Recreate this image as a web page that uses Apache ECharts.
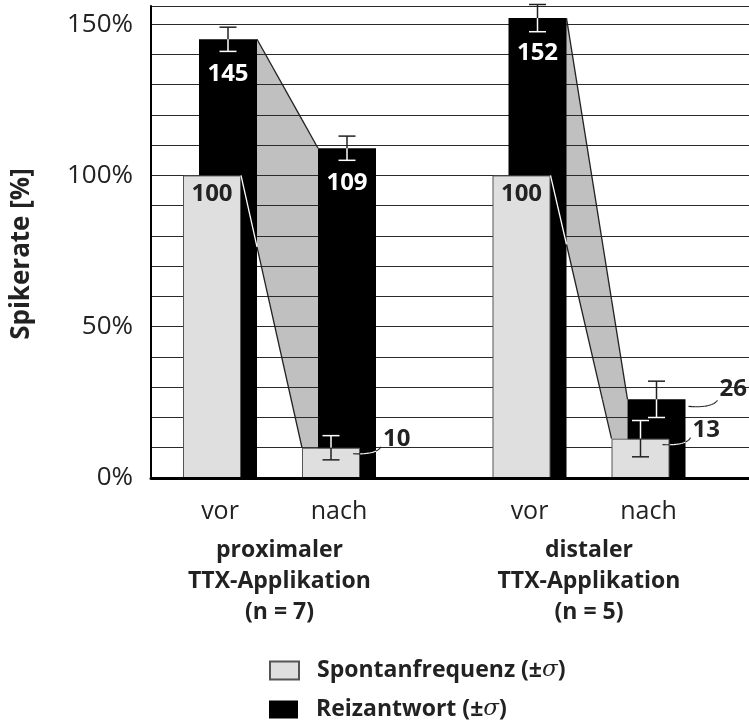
<!DOCTYPE html>
<html>
<head>
<meta charset="utf-8">
<script src="https://cdn.jsdelivr.net/npm/echarts@6/dist/echarts.min.js"></script>
<style>
  html, body { margin: 0; padding: 0; background: #fff; }
  #plot1 { width: 749px; height: 721px; }
</style>
</head>
<body>
<div id="plot1"></div>
<script>
// data (values in % of spontaneous rate before TTX)
const categories = ['vor', 'nach'];
const groupNames = ['proximaler\nTTX-Applikation\n(n = 7)', 'distaler\nTTX-Applikation\n(n = 5)'];
const spontan = [[100, 10], [100, 13]];
const spontanSd = [[null, 4], [null, 6]];
const reiz = [[145, 109], [152, 26]];
const reizSd = [[4, 4], [4.5, 6]];
const yTickLabels = [0, 50, 100, 150];
const seriesNames = ['Spontanfrequenz', 'Reizantwort'];

const FONT = 'Open Sans';
const BAR_W = 58;
const SHIFT = 16;
const Y_MAX = 156;
const INK = '#222';
const LABEL_FONT = 'bold 24px "' + FONT + '"';

function inside(r, x, y) {
  return x > r.x0 && x < r.x1 && y > r.y0 && y < r.y1;
}

// bar rectangles (pixels) of one group, from the axes
function groupRects(g, api) {
  const zero = api.coord([0, 0])[1];
  const half = (BAR_W + SHIFT) / 2;
  return categories.map(function (c, i) {
    const cx = api.coord([i, 0])[0];
    return {
      light: { x0: cx - half, x1: cx - half + BAR_W, y0: api.coord([i, spontan[g][i]])[1], y1: zero },
      dark: { x0: cx - half + SHIFT, x1: cx + half, y0: api.coord([i, reiz[g][i]])[1], y1: zero }
    };
  });
}

function onDark(rects, x, y) {
  let d = false;
  rects.forEach(function (r) {
    if (inside(r.dark, x, y)) d = true;
  });
  rects.forEach(function (r) { if (inside(r.light, x, y)) d = false; });
  return d;
}

// a segment drawn white where it lies on a black bar, dark elsewhere
function splitSeg(p, q, rects, w) {
  const ts = [0, 1];
  rects.forEach(function (r) {
    [r.dark, r.light].forEach(function (b) {
      [b.x0, b.x1].forEach(function (X) {
        if (q[0] !== p[0]) { const t = (X - p[0]) / (q[0] - p[0]); if (t > 0 && t < 1) ts.push(t); }
      });
      [b.y0, b.y1].forEach(function (Y) {
        if (q[1] !== p[1]) { const t = (Y - p[1]) / (q[1] - p[1]); if (t > 0 && t < 1) ts.push(t); }
      });
    });
  });
  ts.sort(function (a, b) { return a - b; });
  const out = [];
  for (let k = 0; k < ts.length - 1; k++) {
    const a = ts[k], b = ts[k + 1];
    if (b - a < 1e-6) continue;
    const m = (a + b) / 2;
    const mx = p[0] + (q[0] - p[0]) * m, my = p[1] + (q[1] - p[1]) * m;
    out.push({
      type: 'line',
      shape: {
        x1: p[0] + (q[0] - p[0]) * a, y1: p[1] + (q[1] - p[1]) * a,
        x2: p[0] + (q[0] - p[0]) * b, y2: p[1] + (q[1] - p[1]) * b
      },
      style: { stroke: onDark(rects, mx, my) ? '#fff' : INK, lineWidth: w }
    });
  }
  return out;
}

function errBar(x, v, sd, rects, api) {
  const yt = api.coord([0, v + sd])[1], yb = api.coord([0, v - sd])[1];
  const cap = 8.5;
  return [].concat(
    splitSeg([x, yt], [x, yb], rects, 1.5),
    splitSeg([x - cap, yt], [x + cap, yt], rects, 1.5),
    splitSeg([x - cap, yb], [x + cap, yb], rects, 1.5)
  );
}

function leader(p0, cp, p1, rects) {
  let out = [];
  let prev = p0;
  for (let k = 1; k <= 12; k++) {
    const t = k / 12, u = 1 - t;
    const pt = [u * u * p0[0] + 2 * u * t * cp[0] + t * t * p1[0], u * u * p0[1] + 2 * u * t * cp[1] + t * t * p1[1]];
    out = out.concat(splitSeg(prev, pt, rects, 1.1));
    prev = pt;
  }
  return out;
}

function renderBand(g) {
  return function (params, api) {
    const R = groupRects(g, api);
    const a = R[0], b = R[1];
    return {
      type: 'polygon',
      shape: { points: [
        [a.dark.x1, a.dark.y0], [b.dark.x0, b.dark.y0], [b.dark.x0, b.light.y0],
        [b.light.x0, b.light.y0], [a.light.x1, a.light.y0]
      ] },
      style: { fill: '#c0c0c0' }
    };
  };
}

function renderOverlay(g) {
  return function (params, api) {
    const R = groupRects(g, api);
    const a = R[0], b = R[1];
    let kids = [];
    kids = kids.concat(splitSeg([a.dark.x1, a.dark.y0], [b.dark.x0, b.dark.y0], R, 1.3));
    kids = kids.concat(splitSeg([a.light.x1, a.light.y0], [b.light.x0, b.light.y0], R, 1.3));
    categories.forEach(function (c, i) {
      const r = R[i];
      if (reizSd[g][i] != null) kids = kids.concat(errBar((r.dark.x0 + r.dark.x1) / 2, reiz[g][i], reizSd[g][i], R, api));
      if (spontanSd[g][i] != null) kids = kids.concat(errBar((r.light.x0 + r.light.x1) / 2, spontan[g][i], spontanSd[g][i], R, api));
      // small values are labelled outside with a curved leader
      if (spontan[g][i] < 30) {
        const lx = r.dark.x1 + 7, top = r.light.y0;
        kids.push({ type: 'text', style: { x: lx, y: top - 9, text: String(spontan[g][i]), fill: INK,
          font: LABEL_FONT, textAlign: 'left', textVerticalAlign: 'middle' } });
        kids = kids.concat(leader([lx - 2, top - 1], [lx - 6, top + 7], [r.light.x1 - 7, top + 6], R));
      }
      if (reiz[g][i] < 30) {
        const lx = r.dark.x1 + 34, top = r.dark.y0;
        kids.push({ type: 'text', style: { x: lx, y: top - 10, text: String(reiz[g][i]), fill: INK,
          font: LABEL_FONT, textAlign: 'left', textVerticalAlign: 'middle' } });
        kids = kids.concat(leader([lx - 2, top + 1], [lx - 8, top + 9], [r.dark.x1 + 3, top + 7], R));
      }
    });
    return { type: 'group', children: kids };
  };
}

const grids = [
  { left: 151, right: 0, top: 6, bottom: 243 },
  { left: 160.5, width: 238, top: 6, bottom: 243 },
  { left: 470, width: 238, top: 6, bottom: 243 }
];

const xAxes = [{
  gridIndex: 0, type: 'value', min: 0, max: 1, z: 10,
  axisLine: { show: true, onZero: false, lineStyle: { color: '#000', width: 3 } },
  axisTick: { show: false }, axisLabel: { show: false }, splitLine: { show: false }
}];
const yAxes = [{
  gridIndex: 0, type: 'value', min: 0, max: Y_MAX, interval: 10, z: 1,
  name: 'Spikerate [%]', nameLocation: 'middle', nameGap: 116,
  nameTextStyle: { fontFamily: FONT, fontWeight: 'bold', fontSize: 26, color: INK, padding: [0, 0, 0, -24] },
  axisLine: { show: true, lineStyle: { color: '#000', width: 2 } },
  axisTick: { show: false },
  axisLabel: {
    margin: 18, fontFamily: FONT, fontSize: 26, color: INK,
    formatter: function (v) { return yTickLabels.indexOf(v) >= 0 ? v + '%' : ''; }
  },
  splitLine: { show: true, lineStyle: { color: '#2a2a2a', width: 1 } }
}];

const series = [];
groupNames.forEach(function (gn, g) {
  const gi = g + 1;
  xAxes.push({
    gridIndex: gi, type: 'category', data: categories,
    axisLine: { show: false }, axisTick: { show: false },
    axisLabel: { margin: 21, fontFamily: FONT, fontSize: 25, color: INK },
    name: gn, nameLocation: 'middle', nameGap: 57,
    nameTextStyle: { fontFamily: FONT, fontWeight: 'bold', fontSize: 23, color: INK, lineHeight: 31 }
  });
  yAxes.push({ gridIndex: gi, type: 'value', min: 0, max: Y_MAX, show: false, splitLine: { show: false } });

  series.push({
    type: 'custom', name: 'band' + g, xAxisIndex: gi, yAxisIndex: gi, z: 0, silent: true,
    renderItem: renderBand(g), data: [[0, 0]]
  });
  series.push({
    type: 'bar', name: seriesNames[0], xAxisIndex: gi, yAxisIndex: gi, z: 3,
    barWidth: BAR_W, barGap: ((SHIFT - BAR_W) / BAR_W * 100) + '%',
    itemStyle: { color: '#dfdfdf', borderColor: '#555', borderWidth: 1 },
    label: { show: true, position: 'insideTop', distance: 7, fontFamily: FONT, fontWeight: 'bold', fontSize: 24, color: INK },
    data: spontan[g].map(function (v) { return { value: v, label: { show: v >= 30 } }; })
  });
  series.push({
    type: 'bar', name: seriesNames[1], xAxisIndex: gi, yAxisIndex: gi, z: 2,
    barWidth: BAR_W, barGap: ((SHIFT - BAR_W) / BAR_W * 100) + '%',
    itemStyle: { color: '#000' },
    label: { show: true, position: 'insideTop', distance: 23, fontFamily: FONT, fontWeight: 'bold', fontSize: 24, color: '#fff' },
    data: reiz[g].map(function (v) { return { value: v, label: { show: v >= 30 } }; })
  });
  series.push({
    type: 'custom', name: 'overlay' + g, xAxisIndex: gi, yAxisIndex: gi, z: 5, silent: true,
    renderItem: renderOverlay(g), data: [[0, 0]]
  });
});

function legendFor(name, top) {
  return {
    data: [name], left: 264, top: top,
    itemWidth: 29, itemHeight: 18, icon: 'rect', selectedMode: false,
    formatter: function (n) { return '{t|' + n + ' (±}{s|σ}{t|)}'; },
    textStyle: {
      padding: [0, 0, 0, 13],
      rich: {
        t: { fontFamily: FONT, fontWeight: 'bold', fontSize: 23, color: INK },
        s: { fontFamily: 'DejaVu Serif', fontStyle: 'italic', fontSize: 23, color: INK }
      }
    }
  };
}

const myChart = echarts.init(document.getElementById('plot1'), null, { renderer: 'canvas' });
myChart.setOption({
  animation: false,
  backgroundColor: '#fff',
  grid: grids,
  xAxis: xAxes,
  yAxis: yAxes,
  legend: [legendFor(seriesNames[0], 654), legendFor(seriesNames[1], 693)],
  series: series
});
</script>
</body>
</html>
